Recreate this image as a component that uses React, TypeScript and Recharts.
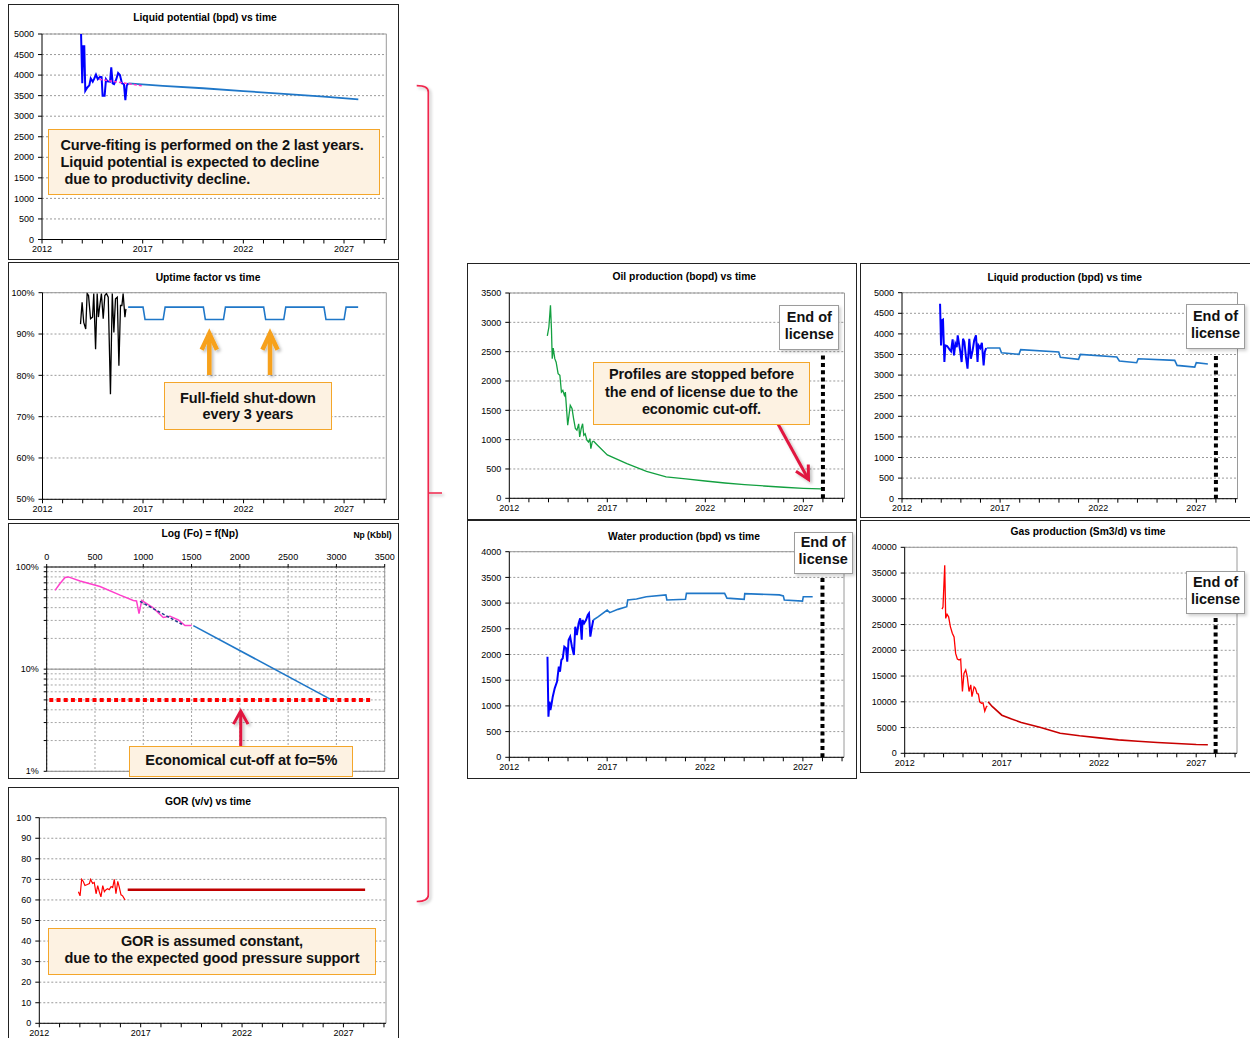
import React from 'react';
import { LineChart, Line, XAxis, YAxis, CartesianGrid, ReferenceLine } from 'recharts';

const FONT = '"Liberation Sans", Arial, sans-serif';

// ---------- shared axes ----------
const YEAR_TICKS = [2012, 2013, 2014, 2015, 2016, 2017, 2018, 2019, 2020, 2021, 2022, 2023, 2024, 2025, 2026, 2027, 2028, 2029];
const YEAR_LABELS = [2012, 2017, 2022, 2027];
const X_MAX = 2029.1;
const END_OF_LICENSE = 2028;

// ---------- liquid potential (bpd) ----------
const LIQ_POT_TICKS = [0, 500, 1000, 1500, 2000, 2500, 3000, 3500, 4000, 4500, 5000];
const LIQ_POT_HIST: [number, number][] = [
  [2013.94, 5000], [2014.0, 3800], [2014.05, 4700], [2014.1, 4700], [2014.15, 3620], [2014.25, 3700],
  [2014.35, 3750], [2014.42, 3920], [2014.52, 3840], [2014.6, 3920], [2014.68, 4010], [2014.77, 3900],
  [2014.88, 3960], [2014.96, 3950], [2015.01, 3500], [2015.11, 3500], [2015.18, 3900], [2015.25, 3850],
  [2015.38, 3840], [2015.44, 4190], [2015.51, 3800], [2015.58, 3780], [2015.69, 3900], [2015.78, 4050],
  [2015.87, 4000], [2015.97, 3800], [2016.07, 3780], [2016.14, 3390], [2016.21, 3750], [2016.29, 3800],
];
const LIQ_POT_FIT: [number, number][] = [[2014.84, 3900], [2017.05, 3735]];
const LIQ_POT_FCST: [number, number][] = [
  [2016.29, 3800], [2018, 3740], [2020, 3680], [2022, 3610], [2024, 3545], [2026, 3475], [2027.71, 3410],
];

// ---------- uptime factor (%) ----------
const UPTIME_TICKS = [50, 60, 70, 80, 90, 100];
const UPTIME_HIST: [number, number][] = [
  [2013.89, 92.4], [2013.97, 97.7], [2014.05, 92.8], [2014.15, 91.2], [2014.22, 99.8], [2014.29, 99.3],
  [2014.39, 93.7], [2014.49, 94.1], [2014.55, 99.8], [2014.64, 86.3], [2014.72, 99.8], [2014.78, 94.1],
  [2014.85, 96.9], [2014.93, 99.8], [2015.02, 93.7], [2015.1, 99.3], [2015.18, 99.8], [2015.27, 98.9],
  [2015.38, 75.4], [2015.47, 99.8], [2015.55, 90.4], [2015.63, 98.5], [2015.72, 98.9], [2015.8, 82.3],
  [2015.88, 96.9], [2015.95, 96.9], [2016.01, 99.8], [2016.1, 94.1], [2016.15, 96.1],
];
const UPTIME_FCST: [number, number][] = [
  [2016.26, 96.5], [2017.0, 96.5], [2017.1, 93.5], [2018.0, 93.5], [2018.1, 96.5], [2020.0, 96.5],
  [2020.1, 93.5], [2021.0, 93.5], [2021.1, 96.5], [2023.0, 96.5], [2023.1, 93.5], [2024.0, 93.5],
  [2024.1, 96.5], [2026.0, 96.5], [2026.1, 93.5], [2027.0, 93.5], [2027.1, 96.5], [2027.7, 96.5],
];

// ---------- oil fraction vs cumulative oil (Kbbl) ----------
const NP_TICKS = [0, 500, 1000, 1500, 2000, 2500, 3000, 3500];
const FO_TICKS = [0.01, 0.02, 0.03, 0.04, 0.05, 0.06, 0.07, 0.08, 0.09, 0.1, 0.2, 0.3, 0.4, 0.5, 0.6, 0.7, 0.8, 0.9, 1];
const FO_HIST: [number, number][] = [
  [86, 0.59], [138, 0.69], [190, 0.79], [224, 0.8], [345, 0.73], [552, 0.645], [760, 0.53], [897, 0.47],
  [930, 0.465], [956, 0.35], [984, 0.47], [1100, 0.4], [1207, 0.32], [1277, 0.33], [1363, 0.303],
  [1432, 0.267], [1501, 0.267],
];
const FO_FIT: [number, number][] = [[966, 0.46], [1400, 0.275]];
const FO_FCST: [number, number][] = [[1518, 0.267], [2950, 0.05]];
const FO_CUTOFF = 0.05;
const FO_CUTOFF_RANGE = [27, 3365];

// ---------- GOR (v/v) ----------
const GOR_TICKS = [0, 10, 20, 30, 40, 50, 60, 70, 80, 90, 100];
const GOR_HIST: [number, number][] = [
  [2013.93, 64], [2014.01, 62], [2014.09, 70], [2014.17, 69], [2014.25, 67], [2014.37, 67.5],
  [2014.47, 68], [2014.53, 70], [2014.63, 68], [2014.71, 68.5], [2014.8, 63], [2014.88, 67],
  [2014.96, 64], [2015.04, 61.5], [2015.13, 67], [2015.21, 64], [2015.29, 65], [2015.37, 65.5],
  [2015.45, 65], [2015.54, 66.5], [2015.62, 66], [2015.7, 70], [2015.78, 63], [2015.87, 69],
  [2015.95, 66], [2016.03, 62.5], [2016.11, 62], [2016.23, 60],
];
const GOR_FCST: [number, number][] = [[2016.36, 65], [2028.07, 65]];

// ---------- oil production (bopd) ----------
const OIL_TICKS = [0, 500, 1000, 1500, 2000, 2500, 3000, 3500];
const OIL_HIST: [number, number][] = [
  [2013.94, 2770], [2014.02, 2920], [2014.1, 3290], [2014.15, 2890], [2014.19, 2380], [2014.24, 2560],
  [2014.32, 2380], [2014.39, 2320], [2014.49, 2125], [2014.58, 2095], [2014.66, 1810], [2014.73, 1840],
  [2014.81, 1755], [2014.86, 1810], [2014.98, 1245], [2015.11, 1585], [2015.2, 1530], [2015.28, 1360],
  [2015.37, 1190], [2015.45, 1160], [2015.54, 1270], [2015.59, 1045], [2015.67, 1190], [2015.74, 1270],
  [2015.8, 1075], [2015.87, 1100], [2015.96, 990], [2016.04, 960], [2016.11, 1017], [2016.16, 845],
  [2016.23, 960], [2016.29, 977],
];
const OIL_FCST: [number, number][] = [
  [2016.29, 977], [2016.5, 905], [2017, 740], [2018, 590], [2019, 460], [2020, 364], [2021, 330],
  [2022, 295], [2023, 261], [2024, 233], [2025, 210], [2026, 188], [2027, 170], [2027.9, 160],
];

// ---------- water production (bpd) ----------
const WATER_TICKS = [0, 500, 1000, 1500, 2000, 2500, 3000, 3500, 4000];
const WATER_HIST: [number, number][] = [
  [2013.95, 1958], [2014.0, 791], [2014.05, 1083], [2014.1, 920], [2014.15, 1018], [2014.22, 1180],
  [2014.32, 1342], [2014.44, 1472], [2014.53, 1763], [2014.59, 1666], [2014.66, 1893], [2014.73, 1925],
  [2014.81, 2152], [2014.9, 2120], [2014.96, 1860], [2015.03, 2282], [2015.11, 2347], [2015.2, 2152],
  [2015.3, 1990], [2015.37, 2541], [2015.45, 2379], [2015.54, 2606], [2015.62, 2703], [2015.7, 2290],
  [2015.74, 2671], [2015.82, 2606], [2015.92, 2671], [2016.01, 2768], [2016.07, 2800], [2016.14, 2347],
  [2016.21, 2509], [2016.29, 2671],
];
const WATER_FCST: [number, number][] = [
  [2016.29, 2671], [2016.55, 2736], [2017.0, 2866], [2017.13, 2814], [2017.55, 2878], [2018.0, 2930],
  [2018.05, 3060], [2018.5, 3080], [2019.0, 3125], [2020.0, 3160], [2020.05, 3060], [2021.0, 3073],
  [2021.05, 3190], [2023.0, 3190], [2023.12, 3096], [2024.0, 3073], [2024.03, 3183], [2025.8, 3160],
  [2026.0, 3140], [2026.05, 3060], [2026.98, 3040], [2027.02, 3125], [2027.5, 3125],
];

// ---------- liquid production (bpd) ----------
const LIQ_TICKS = [0, 500, 1000, 1500, 2000, 2500, 3000, 3500, 4000, 4500, 5000];
const LIQ_HIST: [number, number][] = [
  [2013.94, 4733], [2013.99, 3722], [2014.04, 4328], [2014.09, 4345], [2014.16, 3317], [2014.21, 3722],
  [2014.3, 3706], [2014.42, 3625], [2014.5, 3576], [2014.58, 3867], [2014.65, 3479], [2014.72, 3762],
  [2014.79, 3681], [2014.84, 3964], [2014.92, 3722], [2014.97, 3576], [2015.04, 3317], [2015.11, 3883],
  [2015.18, 3803], [2015.26, 3439], [2015.34, 3155], [2015.43, 3883], [2015.51, 3398], [2015.6, 3600],
  [2015.68, 3843], [2015.77, 3964], [2015.85, 3317], [2015.9, 3722], [2015.99, 3657], [2016.07, 3786],
  [2016.16, 3236], [2016.22, 3560], [2016.29, 3657],
];
const LIQ_FCST: [number, number][] = [
  [2016.32, 3657], [2016.98, 3657], [2017.07, 3544], [2017.96, 3503], [2018.05, 3617], [2019.99, 3560],
  [2020.07, 3430], [2021.0, 3382], [2021.09, 3503], [2022.95, 3439], [2023.08, 3341], [2023.96, 3301],
  [2024.04, 3398], [2025.9, 3358], [2026.02, 3236], [2026.92, 3196], [2027.0, 3301], [2027.59, 3268],
];

// ---------- gas production (Sm3/d) ----------
const GAS_TICKS = [0, 5000, 10000, 15000, 20000, 25000, 30000, 35000, 40000];
const GAS_HIST: [number, number][] = [
  [2013.92, 28000], [2013.97, 28400], [2014.06, 36500], [2014.11, 26200], [2014.18, 27000],
  [2014.26, 26500], [2014.35, 24600], [2014.45, 23300], [2014.54, 22600], [2014.62, 19400],
  [2014.71, 18300], [2014.8, 18100], [2014.88, 18300], [2014.97, 12000], [2015.05, 15500],
  [2015.14, 16200], [2015.22, 14900], [2015.31, 12000], [2015.4, 13300], [2015.46, 11000],
  [2015.57, 12900], [2015.64, 12600], [2015.72, 11600], [2015.79, 11500], [2015.86, 10000],
  [2015.95, 9700], [2016.03, 9800], [2016.12, 8200], [2016.2, 9000], [2016.25, 9200],
];
const GAS_FCST: [number, number][] = [
  [2016.29, 10000], [2016.5, 9100], [2017, 7400], [2017.5, 6650], [2018, 6000], [2019, 5000],
  [2020, 3900], [2021, 3400], [2022, 3000], [2023, 2600], [2024, 2350], [2025, 2100], [2026, 1900],
  [2027, 1700], [2027.6, 1650],
];

// ---------- layout helpers ----------
type Box = { x: number; y: number; w: number; h: number };
type Area = { l: number; t: number; r: number; b: number };

const tickStyle = { fontSize: 9, fill: '#000' };
const pts = (rows: [number, number][]) => rows.map(([t, v]) => ({ t, v }));

function trace(id: string, rows: [number, number][], color: string, width: number, dash?: string) {
  return (
    <Line
      key={id}
      data={pts(rows)}
      dataKey="v"
      type="linear"
      stroke={color}
      strokeWidth={width}
      strokeDasharray={dash}
      dot={false}
      activeDot={false}
      isAnimationActive={false}
    />
  );
}

function licenseLine(top: number) {
  return (
    <ReferenceLine
      key="eol"
      segment={[{ x: END_OF_LICENSE, y: 0 }, { x: END_OF_LICENSE, y: top }]}
      stroke="#000"
      strokeWidth={4}
      strokeDasharray="4 3.3"
    />
  );
}

function Frame({ box }: { box: Box }) {
  return (
    <div
      style={{
        position: 'absolute', left: box.x, top: box.y, width: box.w, height: box.h,
        border: '1px solid #222', boxSizing: 'border-box',
      }}
    />
  );
}

function Title({ x, y, text, size = 10.3 }: { x: number; y: number; text: string; size?: number }) {
  return (
    <div
      style={{
        position: 'absolute', left: x - 150, top: y - 6, width: 300, lineHeight: '12px',
        textAlign: 'center', fontWeight: 700, fontSize: size, color: '#000', whiteSpace: 'nowrap',
      }}
    >
      {text}
    </div>
  );
}

function TimeChart({ box, area, yTicks, yFmt, children }: {
  box: Box; area: Area; yTicks: number[]; yFmt?: (v: number) => string; children?: React.ReactNode;
}) {
  const yMin = yTicks[0];
  const yMax = yTicks[yTicks.length - 1];
  return (
    <div style={{ position: 'absolute', left: box.x, top: box.y }}>
      <LineChart
        width={box.w}
        height={box.h}
        margin={{ top: area.t - box.y, right: box.x + box.w - area.r, bottom: 0, left: 0 }}
      >
        <CartesianGrid vertical={false} stroke="#9a9a9a" strokeDasharray="2 2" />
        <XAxis
          type="number" dataKey="t" domain={[2012, X_MAX]} ticks={YEAR_TICKS} interval={0}
          tickFormatter={(v: number) => (YEAR_LABELS.includes(v) ? String(v) : '')}
          height={box.y + box.h - area.b} tickSize={4} tickMargin={2}
          axisLine={{ stroke: '#000' }} tickLine={{ stroke: '#000' }} tick={tickStyle} allowDataOverflow
        />
        <YAxis
          type="number" domain={[yMin, yMax]} ticks={yTicks} interval={0}
          tickFormatter={yFmt ?? ((v: number) => String(v))}
          width={area.l - box.x} tickSize={4} tickMargin={4}
          axisLine={{ stroke: '#000' }} tickLine={{ stroke: '#000' }} tick={tickStyle} allowDataOverflow
        />
        <ReferenceLine y={yMax} stroke="#9a9a9a" />
        <ReferenceLine x={X_MAX} stroke="#9a9a9a" />
        {children}
      </LineChart>
    </div>
  );
}

function FoChart({ box, area }: { box: Box; area: Area }) {
  const foFmt = (v: number) => (v === 1 ? '100%' : v === 0.1 ? '10%' : v === 0.01 ? '1%' : '');
  return (
    <div style={{ position: 'absolute', left: box.x, top: box.y }}>
      <LineChart
        width={box.w}
        height={box.h}
        margin={{ top: 0, right: box.x + box.w - area.r, bottom: box.y + box.h - area.b, left: 0 }}
      >
        <CartesianGrid stroke="#a6a6a6" strokeDasharray="2 2" />
        <XAxis
          orientation="top" type="number" dataKey="t" domain={[0, 3500]} ticks={NP_TICKS} interval={0}
          height={area.t - box.y} tickSize={3} tickMargin={4}
          axisLine={{ stroke: '#000' }} tickLine={{ stroke: '#000' }} tick={tickStyle} allowDataOverflow
        />
        <YAxis
          type="number" scale="log" domain={[0.01, 1]} ticks={FO_TICKS} interval={0} tickFormatter={foFmt}
          width={area.l - box.x} tickSize={3} tickMargin={5}
          axisLine={{ stroke: '#000' }} tickLine={{ stroke: '#000' }} tick={tickStyle} allowDataOverflow
        />
        <ReferenceLine y={0.1} stroke="#8a8a8a" />
        <ReferenceLine y={0.01} stroke="#8a8a8a" />
        <ReferenceLine x={3500} stroke="#9a9a9a" />
        {trace('fo-hist', FO_HIST, '#ff40cc', 1.5)}
        {trace('fo-fit', FO_FIT, '#1f3d8c', 1.5, '3 2')}
        {trace('fo-fcst', FO_FCST, '#1f77c8', 1.6)}
        <ReferenceLine
          segment={[{ x: FO_CUTOFF_RANGE[0], y: FO_CUTOFF }, { x: FO_CUTOFF_RANGE[1], y: FO_CUTOFF }]}
          stroke="#ff0000"
          strokeWidth={4}
          strokeDasharray="4 3.2"
        />
      </LineChart>
    </div>
  );
}

function Note({ x, y, w, h, lines, lh, pad, padLeft = 0, align = 'center' }: {
  x: number; y: number; w: number; h: number; lines: string[]; lh: number; pad: number;
  padLeft?: number; align?: 'center' | 'left';
}) {
  return (
    <div
      style={{
        position: 'absolute', left: x, top: y, width: w, height: h, boxSizing: 'border-box',
        background: '#fdf2e2', border: '1.5px solid #f4a62a', fontWeight: 700, fontSize: 14.5,
        lineHeight: `${lh}px`, textAlign: align, paddingTop: pad, paddingLeft: padLeft,
        whiteSpace: 'pre', color: '#111', letterSpacing: -0.1,
      }}
    >
      {lines.map((l) => <div key={l}>{l}</div>)}
    </div>
  );
}

function LicenseTag({ x, y, w, h, pad }: { x: number; y: number; w: number; h: number; pad: number }) {
  return (
    <div
      style={{
        position: 'absolute', left: x, top: y, width: w, height: h, boxSizing: 'border-box',
        background: '#fff', border: '1.5px solid #9c9c9c', fontWeight: 700, fontSize: 14.5,
        lineHeight: '16.7px', textAlign: 'center', paddingTop: pad, color: '#111',
        boxShadow: '2px 2px 3px rgba(0,0,0,0.18)',
      }}
    >
      <div>End of</div>
      <div>license</div>
    </div>
  );
}

// chevron-headed arrow, tip at (x2, y2)
function Arrow({ x1, y1, x2, y2, color, width, head, spread }: {
  x1: number; y1: number; x2: number; y2: number; color: string; width: number; head: number; spread: number;
}) {
  const a = Math.atan2(y1 - y2, x1 - x2);
  const r = (spread * Math.PI) / 180;
  const p1 = [x2 + head * Math.cos(a + r), y2 + head * Math.sin(a + r)];
  const p2 = [x2 + head * Math.cos(a - r), y2 + head * Math.sin(a - r)];
  return (
    <g filter="url(#soft)">
      <line x1={x1} y1={y1} x2={x2} y2={y2} stroke={color} strokeWidth={width} />
      <polyline
        points={`${p1[0]},${p1[1]} ${x2},${y2} ${p2[0]},${p2[1]}`}
        fill="none" stroke={color} strokeWidth={width} strokeLinejoin="miter"
      />
    </g>
  );
}

// ---------- panel geometry ----------
const P_LIQ_POT = { box: { x: 8, y: 4, w: 391, h: 256 }, area: { l: 42, t: 34, r: 386.3, b: 239.5 } };
const P_UPTIME = { box: { x: 8, y: 262, w: 391, h: 258 }, area: { l: 42.5, t: 292.7, r: 386.3, b: 499.3 } };
const P_FO = { box: { x: 8, y: 523, w: 391, h: 256 }, area: { l: 46.7, t: 567, r: 384.7, b: 771.3 } };
const P_GOR = { box: { x: 8, y: 787, w: 391, h: 260 }, area: { l: 39.3, t: 817.7, r: 386, b: 1023.3 } };
const P_OIL = { box: { x: 467, y: 263, w: 390, h: 257 }, area: { l: 509.3, t: 293, r: 844.5, b: 498.3 } };
const P_WATER = { box: { x: 467, y: 520, w: 390, h: 259 }, area: { l: 509.3, t: 551.7, r: 844, b: 757.3 } };
const P_LIQ = { box: { x: 860, y: 263, w: 392, h: 255 }, area: { l: 902, t: 292.7, r: 1237.5, b: 498.7 } };
const P_GAS = { box: { x: 860, y: 520, w: 392, h: 253 }, area: { l: 904.7, t: 547.3, r: 1237, b: 753.3 } };

const pct = (v: number) => `${v}%`;

export default function App() {
  return (
    <div
      style={{
        position: 'absolute', left: 0, top: 0, width: 1250, height: 1038, overflow: 'hidden',
        background: '#fff', fontFamily: FONT,
      }}
    >
      {[P_LIQ_POT, P_UPTIME, P_FO, P_GOR, P_OIL, P_WATER, P_LIQ, P_GAS].map((p, i) => (
        <Frame key={i} box={p.box} />
      ))}

      <TimeChart box={P_LIQ_POT.box} area={P_LIQ_POT.area} yTicks={LIQ_POT_TICKS}>
        {trace('lp-hist', LIQ_POT_HIST, '#0000ff', 2)}
        {trace('lp-fcst', LIQ_POT_FCST, '#1f77c8', 1.8)}
        {trace('lp-fit', LIQ_POT_FIT, '#ff33cc', 1.5, '3 2')}
      </TimeChart>

      <TimeChart box={P_UPTIME.box} area={P_UPTIME.area} yTicks={UPTIME_TICKS} yFmt={pct}>
        {trace('up-hist', UPTIME_HIST, '#000', 1.3)}
        {trace('up-fcst', UPTIME_FCST, '#1f77c8', 1.6)}
      </TimeChart>

      <FoChart box={P_FO.box} area={P_FO.area} />

      <TimeChart box={P_GOR.box} area={P_GOR.area} yTicks={GOR_TICKS}>
        {trace('gor-hist', GOR_HIST, '#ff0000', 1.2)}
        {trace('gor-fcst', GOR_FCST, '#c00000', 2.5)}
      </TimeChart>

      <TimeChart box={P_OIL.box} area={P_OIL.area} yTicks={OIL_TICKS}>
        {trace('oil-hist', OIL_HIST, '#13a040', 1.3)}
        {trace('oil-fcst', OIL_FCST, '#13a040', 1.3)}
        {licenseLine(2480)}
      </TimeChart>

      <TimeChart box={P_WATER.box} area={P_WATER.area} yTicks={WATER_TICKS}>
        {trace('w-hist', WATER_HIST, '#0000ff', 2)}
        {trace('w-fcst', WATER_FCST, '#1f77c8', 1.6)}
        {licenseLine(3500)}
      </TimeChart>

      <TimeChart box={P_LIQ.box} area={P_LIQ.area} yTicks={LIQ_TICKS}>
        {trace('l-hist', LIQ_HIST, '#0000ff', 2)}
        {trace('l-fcst', LIQ_FCST, '#1f77c8', 1.6)}
        {licenseLine(3480)}
      </TimeChart>

      <TimeChart box={P_GAS.box} area={P_GAS.area} yTicks={GAS_TICKS}>
        {trace('g-hist', GAS_HIST, '#ff0000', 1.3)}
        {trace('g-fcst', GAS_FCST, '#c80000', 1.6)}
        {licenseLine(26600)}
      </TimeChart>

      <Title x={205} y={18} text="Liquid potential (bpd) vs time" />
      <Title x={208} y={277.7} text="Uptime factor vs time" />
      <Title x={200} y={534.3} text="Log (Fo) = f(Np)" />
      <Title x={372.5} y={535} text="Np (Kbbl)" size={8.5} />
      <Title x={208} y={802.3} text="GOR (v/v) vs time" />
      <Title x={684.3} y={277} text="Oil production (bopd) vs time" />
      <Title x={684} y={536.7} text="Water production (bpd) vs time" />
      <Title x={1064.7} y={277.7} text="Liquid production (bpd) vs time" />
      <Title x={1088} y={532.3} text="Gas production (Sm3/d) vs time" />

      <svg width={1250} height={1038} style={{ position: 'absolute', left: 0, top: 0, pointerEvents: 'none' }}>
        <defs>
          <filter id="soft" x="-50%" y="-50%" width="200%" height="200%">
            <feDropShadow dx="2" dy="2" stdDeviation="1.5" floodColor="#000" floodOpacity="0.25" />
          </filter>
        </defs>
        <Arrow x1={209.3} y1={375} x2={209.3} y2={333.5} color="#f7a11a" width={4.5} head={18} spread={25} />
        <Arrow x1={270} y1={375} x2={270} y2={333.5} color="#f7a11a" width={4.5} head={18} spread={25} />
        <Arrow x1={240.7} y1={746} x2={240.7} y2={711} color="#e0183f" width={3} head={15} spread={29} />
        <Arrow x1={778} y1={424} x2={808.5} y2={479.5} color="#e0183f" width={3} head={15} spread={28} />
        <path
          d="M416.7,85.7 Q428.3,85.7 428.3,92 L428.3,493 L442,493 M428.3,493 L428.3,895 Q428.3,901.5 416.7,901.5"
          fill="none" stroke="#f0284e" strokeWidth={1.7} filter="url(#soft)"
        />
      </svg>

      <Note
        x={48.3} y={129.3} w={331.7} h={65.7} lh={16.7} pad={6.8} padLeft={11.2} align="left"
        lines={['Curve-fiting is performed on the 2 last years.', 'Liquid potential is expected to decline', ' due to productivity decline.']}
      />
      <Note x={164} y={382} w={167.7} h={48.3} lh={16} pad={7.2} lines={['Full-field shut-down', 'every 3 years']} />
      <Note x={129.3} y={746} w={224} h={31} lh={17} pad={5.3} lines={['Economical cut-off at fo=5%']} />
      <Note
        x={48.3} y={928.3} w={327.4} h={46.7} lh={17.3} pad={3.3}
        lines={['GOR is assumed constant,', 'due to the expected good pressure support']}
      />
      <Note
        x={592.7} y={362} w={217.6} h={63.3} lh={17.5} pad={3}
        lines={['Profiles are stopped before', 'the end of license due to the', 'economic cut-off.']}
      />

      <LicenseTag x={779.3} y={304.7} w={60} h={45.6} pad={3.4} />
      <LicenseTag x={793.7} y={531.7} w={59} h={42.6} pad={1.8} />
      <LicenseTag x={1186.3} y={303.7} w={58.4} h={45} pad={3.4} />
      <LicenseTag x={1186.3} y={571} w={58.4} h={43.3} pad={2.4} />
    </div>
  );
}
